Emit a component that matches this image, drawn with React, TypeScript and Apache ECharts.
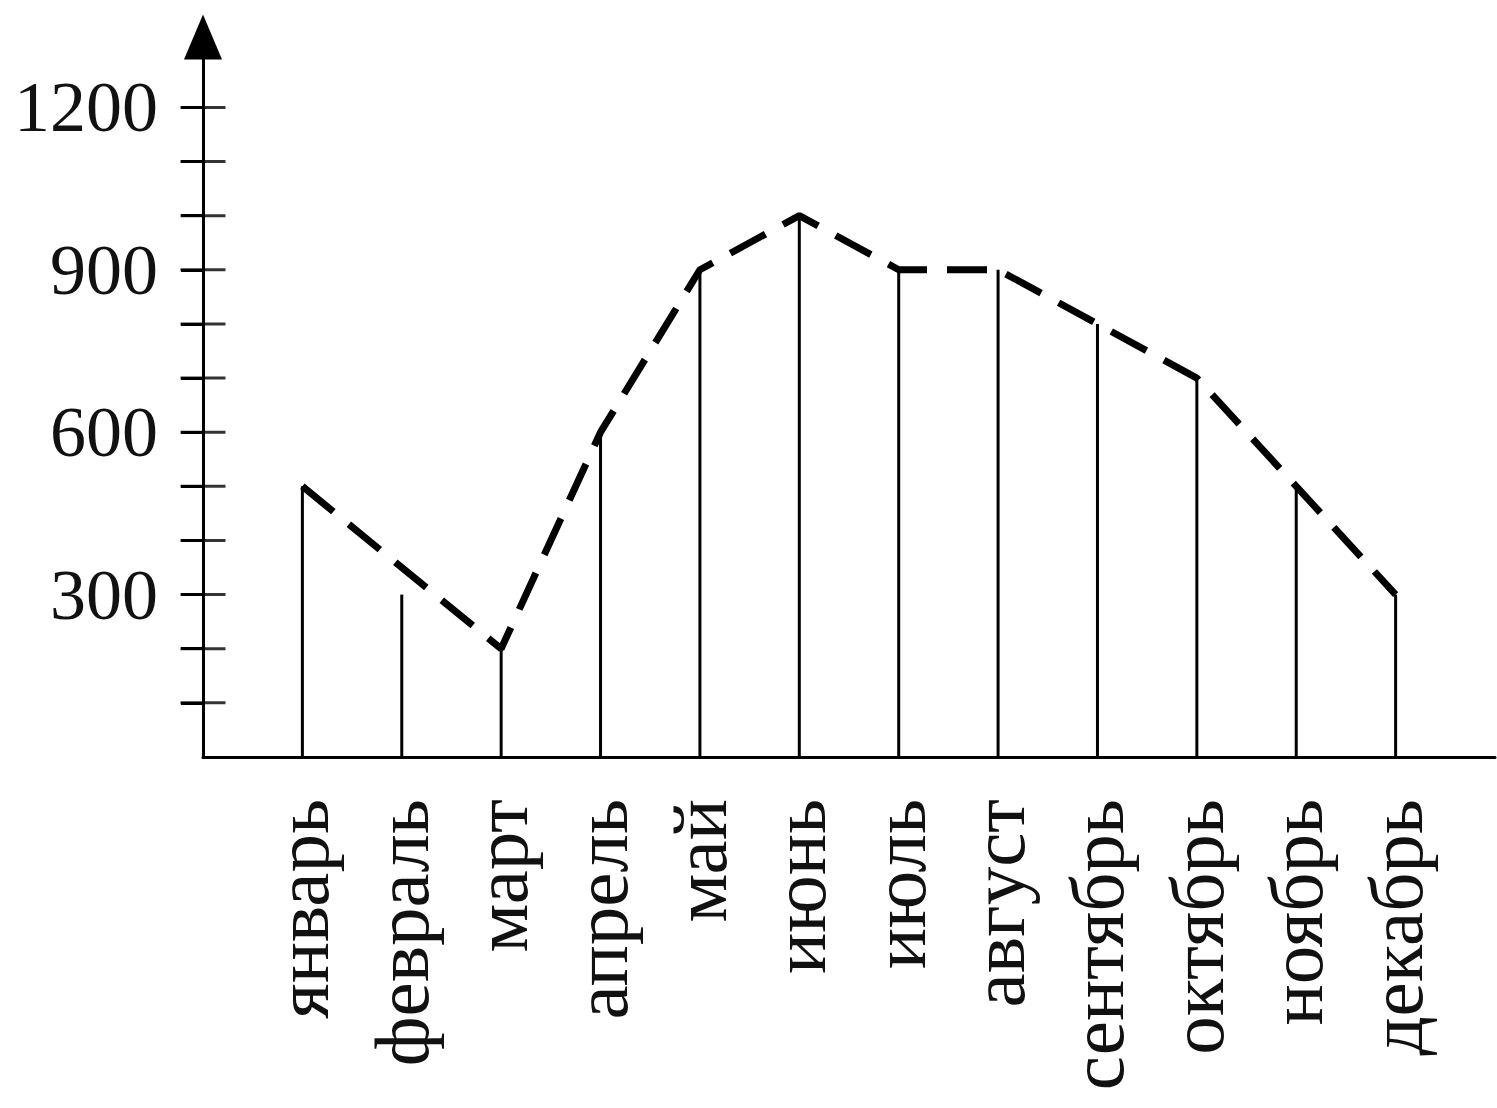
import React, { useEffect, useRef } from "react";
import * as echarts from "echarts";

const months = ["январь", "февраль", "март", "апрель", "май", "июнь", "июль", "август", "сентябрь", "октябрь", "ноябрь", "декабрь"];
const stemValues = [500, 300, 200, 600, 900, 1000, 900, 900, 800, 700, 500, 300];
const lineValues = [500, 350, 200, 600, 900, 1000, 900, 900, 800, 700, 500, 300];
const tickValues = [100, 200, 300, 400, 500, 600, 700, 800, 900, 1000, 1100, 1200];
const labelValues = [300, 600, 900, 1200];

export default function App() {
  const ref = useRef<HTMLDivElement>(null);
  useEffect(() => {
    if (!ref.current) return;
    const chart = echarts.init(ref.current, null, { renderer: "svg" });
    const categories = ["", ...months, ""];
    const stems = [null, ...stemValues, null];
    const line = [null, ...lineValues, null];
    const font = "Liberation Serif";
    chart.setOption({
      animation: false,
      backgroundColor: "#fff",
      grid: { left: 203, right: 2, top: 37, bottom: 351, containLabel: false, outerBoundsMode: "none" },
      xAxis: {
        type: "category",
        data: categories,
        boundaryGap: false,
        axisLine: { show: true, lineStyle: { color: "#000", width: 3 } },
        axisTick: { show: false },
        axisLabel: {
          rotate: 90,
          interval: 0,
          margin: 42,
          color: "#111",
          fontFamily: font,
          fontSize: 77,
        },
        splitLine: { show: false },
      },
      yAxis: {
        type: "value",
        min: 0,
        max: 1330,
        position: "left",
        splitLine: { show: false },
        axisLine: {
          show: true,
          onZero: false,
          symbol: ["none", "triangle"],
          symbolSize: [38, 45],
          lineStyle: { color: "#000", width: 3 },
        },
        axisTick: {
          show: true,
          inside: false,
          length: 22,
          customValues: tickValues,
          lineStyle: { color: "#000", width: 3 },
        },
        axisLabel: {
          show: true,
          margin: 45,
          customValues: labelValues,
          formatter: (v: number) => String(v),
          color: "#111",
          fontFamily: font,
          fontSize: 72,
        },
      },
      series: [
        {
          type: "bar",
          data: stems,
          barWidth: 3,
          itemStyle: { color: "#000" },
          silent: true,
        },
        {
          type: "line",
          data: line,
          symbol: "none",
          connectNulls: false,
          lineStyle: { color: "#000", width: 7, type: [40, 20], cap: "butt" },
          z: 3,
        },
        {
          // tick marks crossing the y axis
          type: "scatter",
          data: tickValues.map((v) => [0, v]),
          symbol: "rect",
          symbolSize: [45, 3],
          itemStyle: { color: "#000" },
          silent: true,
          clip: false,
          z: 4,
        },
      ],
    });
    return () => chart.dispose();
  }, []);
  return <div ref={ref} style={{ position: "fixed", left: 0, top: 0, width: 1497, height: 1108 }} />;
}
